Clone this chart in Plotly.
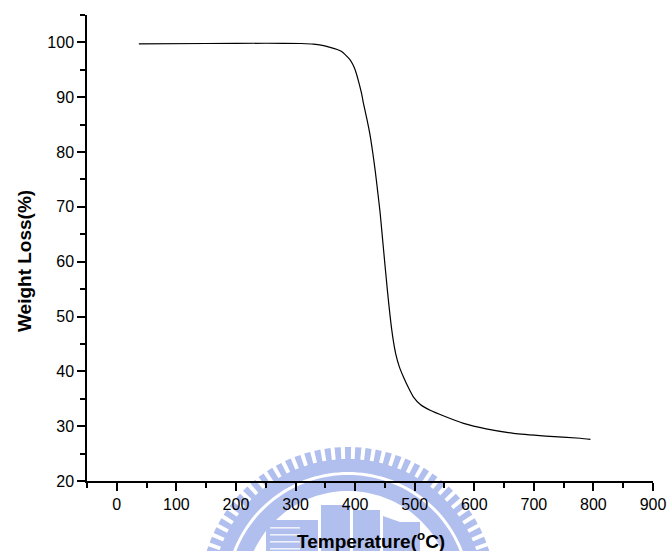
import math
import plotly.graph_objects as go

# TGA curve: temperature (deg C) vs remaining weight (%)
temperature = [37, 150, 250, 310, 330, 345, 358, 370, 378, 385, 391, 396, 400, 404, 407,
               411, 414, 417, 420, 423, 426, 430, 434, 438, 442, 445, 448, 451, 454,
               457, 460, 464, 468, 474, 481, 490, 498, 510, 526, 550, 582, 620, 666,
               720, 778, 795]
weight = [99.75, 99.8, 99.85, 99.8, 99.7, 99.45, 99.1, 98.7, 98.3, 97.6, 96.9, 96.0, 95.0, 93.6, 92.4,
          90.6, 88.9, 87.4, 85.9, 84.3, 82.5, 79.6, 76.4, 72.7, 68.9, 65.4, 61.9, 58.4, 55.0,
          51.8, 48.9, 45.7, 43.3, 40.9, 39.0, 36.9, 35.3, 33.9, 32.9, 31.8, 30.5, 29.5, 28.7,
          28.2, 27.8, 27.6]

x_ticks = [0, 100, 200, 300, 400, 500, 600, 700, 800, 900]
y_ticks = [20, 30, 40, 50, 60, 70, 80, 90, 100]

W, H = 667, 551
L, R, T, B = 87, 14, 15, 70
PW, PH = W - L - R, H - T - B


def paper(px, py):
    """Pixel position on the page -> paper coordinates."""
    return (px - L) / PW, (H - B - py) / PH


def path_from(points):
    pts = [paper(px, py) for px, py in points]
    return "M " + " L ".join(f"{x:.5f},{y:.5f}" for x, y in pts) + " Z"


# faint seal in the background (gear ring with buildings)
seal_color = "#b1bfef"
cx, cy = 348, 595


def ring(r_out, r_in, n=160):
    outer = [(cx + r_out * math.sin(a), cy - r_out * math.cos(a))
             for a in [2 * math.pi * i / n for i in range(n + 1)]]
    inner = [(cx + r_in * math.sin(a), cy - r_in * math.cos(a))
             for a in [2 * math.pi * i / n for i in range(n, -1, -1)]]
    return path_from(outer + inner)


def tooth(angle_deg, r0=135, r1=148, half=1.2):
    pts = []
    for r, da in [(r0, -half), (r1, -half), (r1, half), (r0, half)]:
        a = math.radians(angle_deg + da)
        pts.append((cx + r * math.sin(a), cy - r * math.cos(a)))
    return path_from(pts)


shapes = []
shapes.append(dict(type="path", path=ring(136, 123), fillcolor=seal_color,
                   line=dict(width=0), layer="below", xref="paper", yref="paper"))
shapes.append(dict(type="path", path=ring(120, 104), fillcolor=seal_color,
                   line=dict(width=0), layer="below", xref="paper", yref="paper"))
teeth = " ".join(tooth(a) for a in [i * 4.0 for i in range(-22, 23)])
shapes.append(dict(type="path", path=teeth, fillcolor=seal_color,
                   line=dict(width=0), layer="below", xref="paper", yref="paper"))

# buildings in the middle of the seal
blocks = [
    [(266, 520), (318, 520), (318, 560), (266, 560)],
    [(321, 505), (350, 505), (350, 560), (321, 560)],
    [(353, 510), (380, 510), (380, 560), (353, 560)],
    [(383, 516), (400, 522), (420, 522), (420, 560), (383, 560)],
]
for blk in blocks:
    shapes.append(dict(type="path", path=path_from(blk), fillcolor=seal_color,
                       line=dict(width=0), layer="below", xref="paper", yref="paper"))
for sy in [527, 534, 541, 548]:
    shapes.append(dict(type="path",
                       path=path_from([(270, sy), (300, sy), (300, sy + 1.6), (270, sy + 1.6)]),
                       fillcolor="#eef1fb", line=dict(width=0), layer="below",
                       xref="paper", yref="paper"))

fig = go.Figure()
fig.add_trace(go.Scatter(
    x=temperature, y=weight, mode="lines",
    line=dict(color="black", width=1.2, shape="spline", smoothing=0.5),
    showlegend=False, hoverinfo="skip",
))

axis_font = dict(family="Liberation Sans, Arial, sans-serif", size=16, color="black")

fig.update_layout(
    width=W, height=H,
    margin=dict(l=L, r=R, t=T, b=B),
    paper_bgcolor="white", plot_bgcolor="rgba(0,0,0,0)",
    shapes=shapes,
    xaxis=dict(
        range=[-50, 900], tickvals=x_ticks, ticktext=[str(v) for v in x_ticks],
        automargin=False,
        showgrid=False, zeroline=False, showline=True, linecolor="black", linewidth=1.5,
        ticks="outside", ticklen=8, tickwidth=1.5, tickcolor="black", tickfont=axis_font,
        minor=dict(tickvals=[-50 + 100 * i for i in range(10)], ticks="outside", ticklen=5,
                   tickwidth=1.5, tickcolor="black"),
    ),
    yaxis=dict(
        range=[20, 105], tickvals=y_ticks, ticktext=[str(v) for v in y_ticks],
        automargin=False,
        showgrid=False, zeroline=False, showline=True, linecolor="black", linewidth=1.5,
        ticks="outside", ticklen=8, tickwidth=1.5, tickcolor="black", tickfont=axis_font,
        minor=dict(tickvals=[25 + 10 * i for i in range(9)], ticks="outside", ticklen=5,
                   tickwidth=1.5, tickcolor="black"),
    ),
    annotations=[
        dict(text="<b>Temperature(<sup>o</sup>C)</b>", xref="paper", yref="paper",
             x=paper(371, 540)[0], y=paper(371, 540)[1], xanchor="center", yanchor="middle",
             showarrow=False,
             font=dict(family="Liberation Sans, Arial, sans-serif", size=19, color="black")),
        dict(text="<b>Weight Loss(%)</b>", xref="paper", yref="paper",
             x=paper(24, 261)[0], y=paper(24, 261)[1], xanchor="center", yanchor="middle",
             textangle=-90, showarrow=False,
             font=dict(family="Liberation Sans, Arial, sans-serif", size=19, color="black")),
    ],
)

fig.write_html("out.html")
